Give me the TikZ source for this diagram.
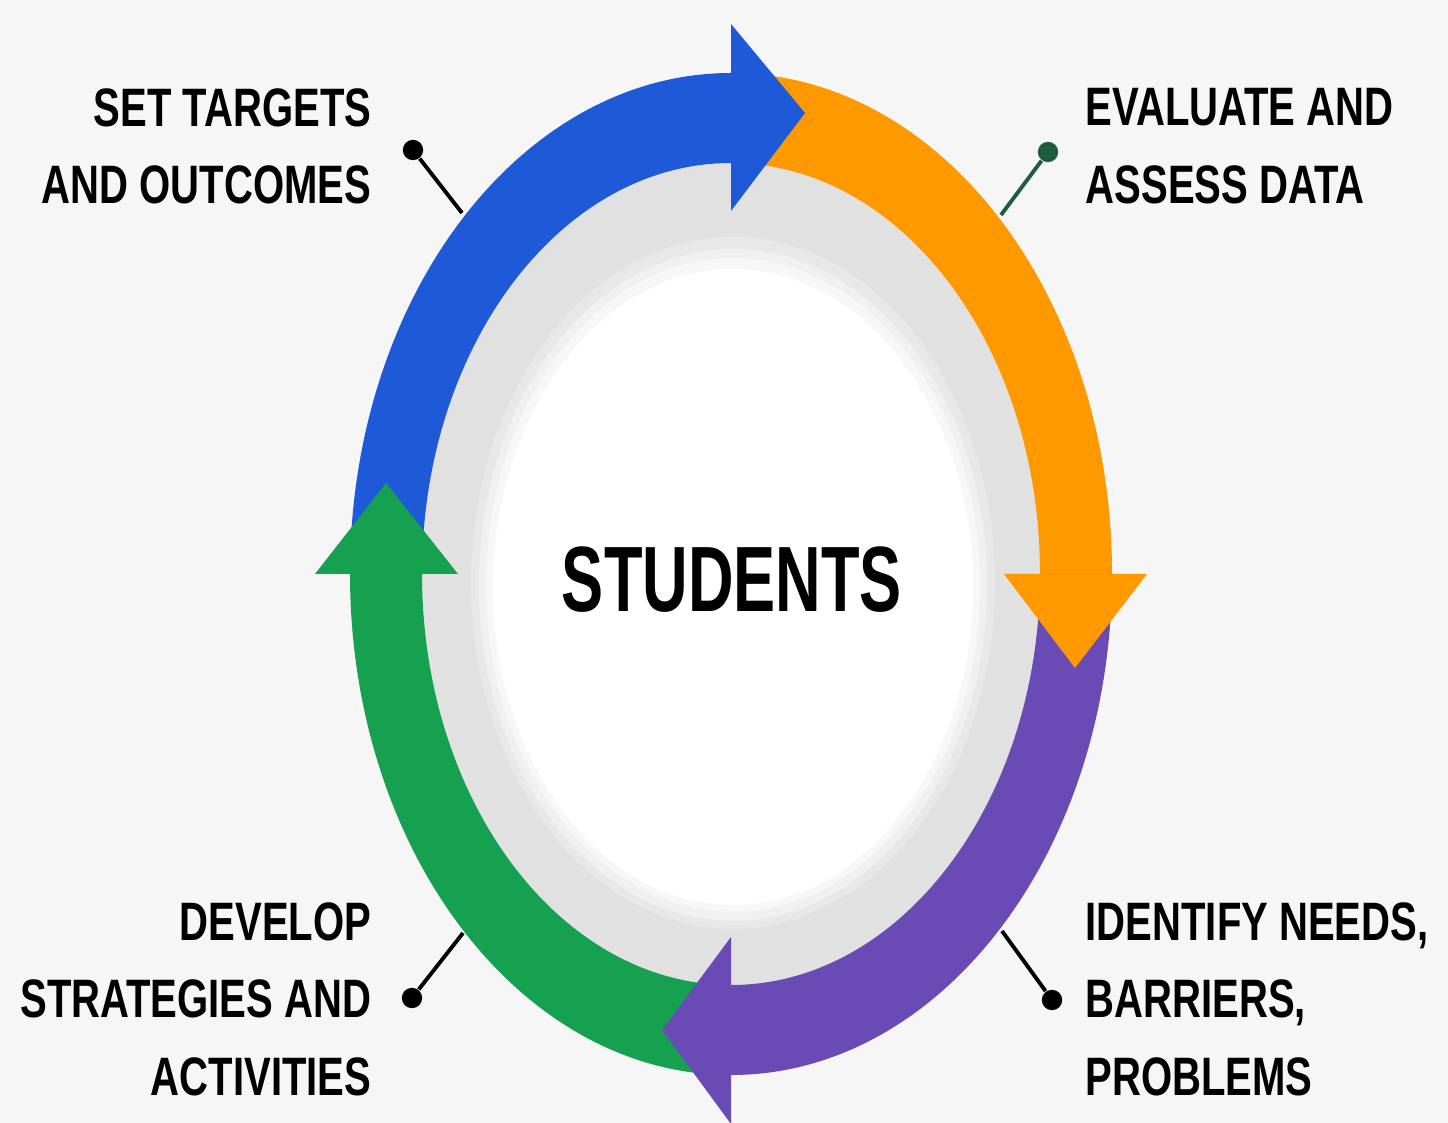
\documentclass[tikz,border=0pt]{standalone}
\usepackage{fontspec}
\newfontfamily\labelfont{Liberation Sans}[FakeStretch=0.74]
\newfontfamily\hubfont{Liberation Sans}[FakeStretch=0.68]
\definecolor{cycblue}{HTML}{1E5AD8}
\definecolor{cycorange}{HTML}{FF9900}
\definecolor{cycpurple}{HTML}{6A4BB6}
\definecolor{cycgreen}{HTML}{15A150}
\definecolor{leadgreen}{HTML}{1D5E3E}
\definecolor{ringgray}{HTML}{E1E1E1}
\definecolor{pagegray}{HTML}{F6F6F6}
\tikzset{
  labeltext/.style={inner sep=0pt, font=\labelfont\bfseries\fontsize{15.4}{22}\selectfont, text=black},
  labelleft/.style={labeltext, anchor=north east, align=right},
  labelright/.style={labeltext, anchor=north west, align=left},
  leaddot/.style={circle, fill=#1, inner sep=0pt, minimum size=5.8pt},
  leadline/.style={draw=#1, line width=1.1pt}
}
\begin{document}
\begin{tikzpicture}[x=0.1mm,y=-0.1mm]
\useasboundingbox (0,0) rectangle (1448,1123);
\fill[pagegray] (0,0) rectangle (1448,1123);

\fill[ringgray] (731,574) ellipse [x radius=312, y radius=414];
\fill[black!9] (733,583) ellipse [x radius=262, y radius=346];
\fill[black!6] (733,585) ellipse [x radius=254, y radius=336];
\fill[black!3] (733,585) ellipse [x radius=247, y radius=327];
\fill[white] (733,587) ellipse [x radius=240, y radius=318];

\begin{scope}[shift={(731,574)}]
\fill[cycblue] (180:381 and 501) arc [start angle=180, end angle=270, x radius=381, y radius=501]
  -- (270:309 and 411) arc [start angle=270, end angle=180, x radius=309, y radius=411] -- cycle;
\fill[cycorange] (270:381 and 501) arc [start angle=270, end angle=360, x radius=381, y radius=501]
  -- (360:309 and 411) arc [start angle=360, end angle=270, x radius=309, y radius=411] -- cycle;
\fill[cycpurple] (0:381 and 501) arc [start angle=0, end angle=90, x radius=381, y radius=501]
  -- (90:309 and 411) arc [start angle=90, end angle=0, x radius=309, y radius=411] -- cycle;
\fill[cycgreen] (90:381 and 501) arc [start angle=90, end angle=180, x radius=381, y radius=501]
  -- (180:309 and 411) arc [start angle=180, end angle=90, x radius=309, y radius=411] -- cycle;

\fill[cycblue] (270:416 and 550) -- (74,-461) -- (270:273 and 363) -- cycle;
\fill[cycorange] (0:416 and 550) -- (344,94) -- (0:273 and 363) -- cycle;
\fill[cycpurple] (90:416 and 550) -- (-69,456) -- (90:273 and 363) -- cycle;
\fill[cycgreen] (180:416 and 550) -- (-345,-91) -- (180:273 and 363) -- cycle;
\end{scope}

\node[inner sep=0pt, font=\hubfont\bfseries\fontsize{26.4}{30}\selectfont] (hub) at (732,580) {STUDENTS};

\node[labelleft] (settxt) at (372,88) {SET TARGETS\\AND OUTCOMES};
\node[labelright] (evaltxt) at (1085,88) {EVALUATE AND\\ASSESS DATA};
\node[labelleft] (devtxt) at (372,902) {DEVELOP\\STRATEGIES AND\\ACTIVITIES};
\node[labelright] (idtxt) at (1085,902) {IDENTIFY NEEDS,\\BARRIERS,\\PROBLEMS};

\node[leaddot=black] (setdot) at (413,150) {};
\node[leaddot=leadgreen] (evaldot) at (1048,152) {};
\node[leaddot=black] (devdot) at (412,998) {};
\node[leaddot=black] (iddot) at (1052,1000) {};
\coordinate (setring) at (462,213);
\coordinate (evalring) at (1001,215);
\coordinate (devring) at (463,933);
\coordinate (idring) at (1002,931);
\draw[leadline=black] (setdot) -- (setring);
\draw[leadline=leadgreen] (evaldot) -- (evalring);
\draw[leadline=black] (devdot) -- (devring);
\draw[leadline=black] (iddot) -- (idring);
\end{tikzpicture}
\end{document}
